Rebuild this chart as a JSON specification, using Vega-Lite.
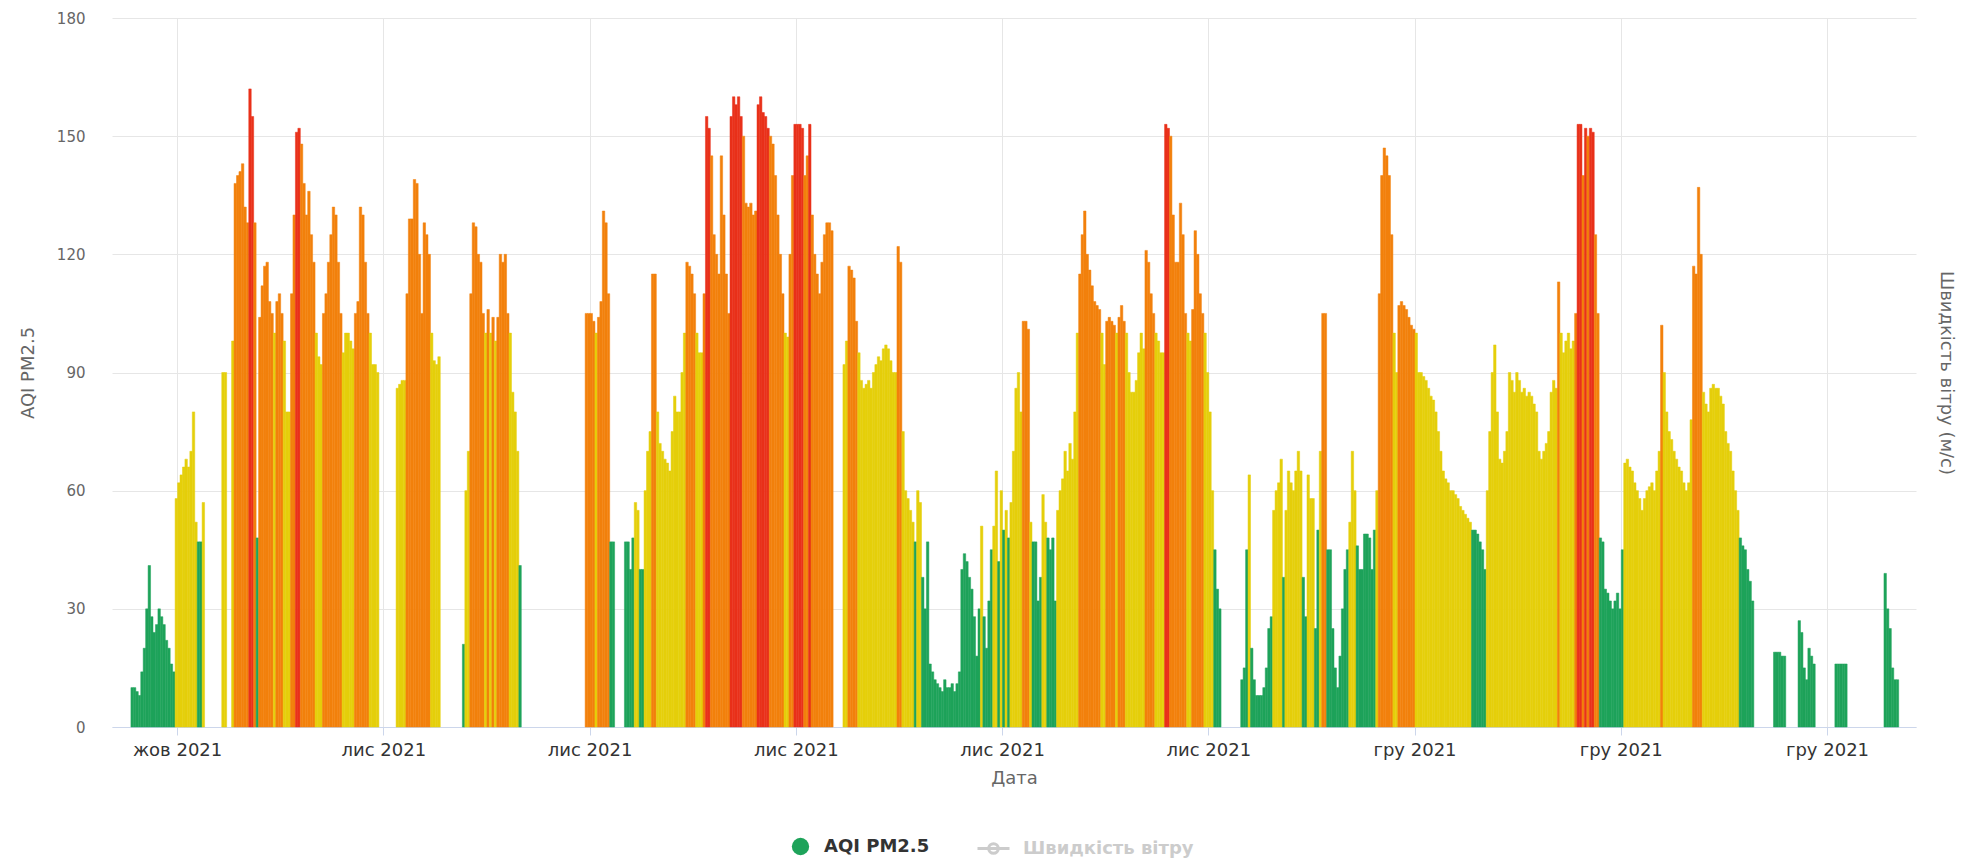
{
"$schema":"https://vega.github.io/schema/vega-lite/v6.json",
"width":1804,"height":709,
"autosize":{"type":"none"},
"padding":{"left":112,"top":18,"right":57,"bottom":134},
"config":{"font":"DejaVu Sans","view":{"stroke":null}},
"datasets":{"aqi":[
{"t":"2021-10-23T10:00","v":10},{"t":"2021-10-23T12:00","v":10},{"t":"2021-10-23T14:00","v":9},{"t":"2021-10-23T16:00","v":8},{"t":"2021-10-23T18:00","v":14},{"t":"2021-10-23T20:00","v":20},{"t":"2021-10-23T22:00","v":30},
{"t":"2021-10-24T00:00","v":41},{"t":"2021-10-24T02:00","v":28},{"t":"2021-10-24T04:00","v":24},{"t":"2021-10-24T06:00","v":26},{"t":"2021-10-24T08:00","v":30},{"t":"2021-10-24T10:00","v":28},{"t":"2021-10-24T12:00","v":26},{"t":"2021-10-24T14:00","v":22},{"t":"2021-10-24T16:00","v":20},{"t":"2021-10-24T18:00","v":16},{"t":"2021-10-24T20:00","v":14},{"t":"2021-10-24T22:00","v":58},
{"t":"2021-10-25T00:00","v":62},{"t":"2021-10-25T02:00","v":64},{"t":"2021-10-25T04:00","v":66},{"t":"2021-10-25T06:00","v":68},{"t":"2021-10-25T08:00","v":66},{"t":"2021-10-25T10:00","v":70},{"t":"2021-10-25T12:00","v":80},{"t":"2021-10-25T14:00","v":52},{"t":"2021-10-25T16:00","v":47},{"t":"2021-10-25T18:00","v":47},{"t":"2021-10-25T20:00","v":57},
{"t":"2021-10-26T12:00","v":90},{"t":"2021-10-26T14:00","v":90},{"t":"2021-10-26T20:00","v":98},{"t":"2021-10-26T22:00","v":138},
{"t":"2021-10-27T00:00","v":140},{"t":"2021-10-27T02:00","v":141},{"t":"2021-10-27T04:00","v":143},{"t":"2021-10-27T06:00","v":132},{"t":"2021-10-27T08:00","v":128},{"t":"2021-10-27T10:00","v":162},{"t":"2021-10-27T12:00","v":155},{"t":"2021-10-27T14:00","v":128},{"t":"2021-10-27T16:00","v":48},{"t":"2021-10-27T18:00","v":104},{"t":"2021-10-27T20:00","v":112},{"t":"2021-10-27T22:00","v":117},
{"t":"2021-10-28T00:00","v":118},{"t":"2021-10-28T02:00","v":108},{"t":"2021-10-28T04:00","v":105},{"t":"2021-10-28T06:00","v":100},{"t":"2021-10-28T08:00","v":108},{"t":"2021-10-28T10:00","v":110},{"t":"2021-10-28T12:00","v":105},{"t":"2021-10-28T14:00","v":98},{"t":"2021-10-28T16:00","v":80},{"t":"2021-10-28T18:00","v":80},{"t":"2021-10-28T20:00","v":110},{"t":"2021-10-28T22:00","v":130},
{"t":"2021-10-29T00:00","v":151},{"t":"2021-10-29T02:00","v":152},{"t":"2021-10-29T04:00","v":148},{"t":"2021-10-29T06:00","v":138},{"t":"2021-10-29T08:00","v":130},{"t":"2021-10-29T10:00","v":136},{"t":"2021-10-29T12:00","v":125},{"t":"2021-10-29T14:00","v":118},{"t":"2021-10-29T16:00","v":100},{"t":"2021-10-29T18:00","v":94},{"t":"2021-10-29T20:00","v":92},{"t":"2021-10-29T22:00","v":105},
{"t":"2021-10-30T00:00","v":110},{"t":"2021-10-30T02:00","v":118},{"t":"2021-10-30T04:00","v":125},{"t":"2021-10-30T06:00","v":132},{"t":"2021-10-30T08:00","v":130},{"t":"2021-10-30T10:00","v":118},{"t":"2021-10-30T12:00","v":105},{"t":"2021-10-30T14:00","v":95},{"t":"2021-10-30T16:00","v":100},{"t":"2021-10-30T18:00","v":100},{"t":"2021-10-30T20:00","v":98},{"t":"2021-10-30T22:00","v":96},
{"t":"2021-10-31T00:00","v":105},{"t":"2021-10-31T02:00","v":108},{"t":"2021-10-31T04:00","v":132},{"t":"2021-10-31T06:00","v":130},{"t":"2021-10-31T08:00","v":118},{"t":"2021-10-31T10:00","v":105},{"t":"2021-10-31T12:00","v":100},{"t":"2021-10-31T14:00","v":92},{"t":"2021-10-31T16:00","v":92},{"t":"2021-10-31T18:00","v":90},
{"t":"2021-11-01T10:00","v":86},{"t":"2021-11-01T12:00","v":87},{"t":"2021-11-01T14:00","v":88},{"t":"2021-11-01T16:00","v":88},{"t":"2021-11-01T18:00","v":110},{"t":"2021-11-01T20:00","v":129},{"t":"2021-11-01T22:00","v":129},
{"t":"2021-11-02T00:00","v":139},{"t":"2021-11-02T02:00","v":138},{"t":"2021-11-02T04:00","v":120},{"t":"2021-11-02T06:00","v":105},{"t":"2021-11-02T08:00","v":128},{"t":"2021-11-02T10:00","v":125},{"t":"2021-11-02T12:00","v":120},{"t":"2021-11-02T14:00","v":100},{"t":"2021-11-02T16:00","v":93},{"t":"2021-11-02T18:00","v":92},{"t":"2021-11-02T20:00","v":94},
{"t":"2021-11-03T16:00","v":21},{"t":"2021-11-03T18:00","v":60},{"t":"2021-11-03T20:00","v":70},{"t":"2021-11-03T22:00","v":110},
{"t":"2021-11-04T00:00","v":128},{"t":"2021-11-04T02:00","v":127},{"t":"2021-11-04T04:00","v":120},{"t":"2021-11-04T06:00","v":118},{"t":"2021-11-04T08:00","v":105},{"t":"2021-11-04T10:00","v":100},{"t":"2021-11-04T12:00","v":106},{"t":"2021-11-04T14:00","v":100},{"t":"2021-11-04T16:00","v":104},{"t":"2021-11-04T18:00","v":98},{"t":"2021-11-04T20:00","v":104},{"t":"2021-11-04T22:00","v":120},
{"t":"2021-11-05T00:00","v":118},{"t":"2021-11-05T02:00","v":120},{"t":"2021-11-05T04:00","v":105},{"t":"2021-11-05T06:00","v":100},{"t":"2021-11-05T08:00","v":85},{"t":"2021-11-05T10:00","v":80},{"t":"2021-11-05T12:00","v":70},{"t":"2021-11-05T14:00","v":41},
{"t":"2021-11-07T20:00","v":105},{"t":"2021-11-07T22:00","v":105},
{"t":"2021-11-08T00:00","v":105},{"t":"2021-11-08T02:00","v":103},{"t":"2021-11-08T04:00","v":100},{"t":"2021-11-08T06:00","v":104},{"t":"2021-11-08T08:00","v":108},{"t":"2021-11-08T10:00","v":131},{"t":"2021-11-08T12:00","v":128},{"t":"2021-11-08T14:00","v":110},{"t":"2021-11-08T16:00","v":47},{"t":"2021-11-08T18:00","v":47},
{"t":"2021-11-09T04:00","v":47},{"t":"2021-11-09T06:00","v":47},{"t":"2021-11-09T08:00","v":40},{"t":"2021-11-09T10:00","v":48},{"t":"2021-11-09T12:00","v":57},{"t":"2021-11-09T14:00","v":55},{"t":"2021-11-09T16:00","v":40},{"t":"2021-11-09T18:00","v":40},{"t":"2021-11-09T20:00","v":60},{"t":"2021-11-09T22:00","v":70},
{"t":"2021-11-10T00:00","v":75},{"t":"2021-11-10T02:00","v":115},{"t":"2021-11-10T04:00","v":115},{"t":"2021-11-10T06:00","v":80},{"t":"2021-11-10T08:00","v":72},{"t":"2021-11-10T10:00","v":70},{"t":"2021-11-10T12:00","v":68},{"t":"2021-11-10T14:00","v":67},{"t":"2021-11-10T16:00","v":65},{"t":"2021-11-10T18:00","v":75},{"t":"2021-11-10T20:00","v":84},{"t":"2021-11-10T22:00","v":80},
{"t":"2021-11-11T00:00","v":80},{"t":"2021-11-11T02:00","v":90},{"t":"2021-11-11T04:00","v":100},{"t":"2021-11-11T06:00","v":118},{"t":"2021-11-11T08:00","v":117},{"t":"2021-11-11T10:00","v":115},{"t":"2021-11-11T12:00","v":110},{"t":"2021-11-11T14:00","v":100},{"t":"2021-11-11T16:00","v":95},{"t":"2021-11-11T18:00","v":95},{"t":"2021-11-11T20:00","v":110},{"t":"2021-11-11T22:00","v":155},
{"t":"2021-11-12T00:00","v":152},{"t":"2021-11-12T02:00","v":145},{"t":"2021-11-12T04:00","v":125},{"t":"2021-11-12T06:00","v":120},{"t":"2021-11-12T08:00","v":115},{"t":"2021-11-12T10:00","v":145},{"t":"2021-11-12T12:00","v":130},{"t":"2021-11-12T14:00","v":115},{"t":"2021-11-12T16:00","v":105},{"t":"2021-11-12T18:00","v":155},{"t":"2021-11-12T20:00","v":160},{"t":"2021-11-12T22:00","v":158},
{"t":"2021-11-13T00:00","v":160},{"t":"2021-11-13T02:00","v":155},{"t":"2021-11-13T04:00","v":150},{"t":"2021-11-13T06:00","v":133},{"t":"2021-11-13T08:00","v":132},{"t":"2021-11-13T10:00","v":133},{"t":"2021-11-13T12:00","v":130},{"t":"2021-11-13T14:00","v":131},{"t":"2021-11-13T16:00","v":158},{"t":"2021-11-13T18:00","v":160},{"t":"2021-11-13T20:00","v":156},{"t":"2021-11-13T22:00","v":155},
{"t":"2021-11-14T00:00","v":152},{"t":"2021-11-14T02:00","v":150},{"t":"2021-11-14T04:00","v":148},{"t":"2021-11-14T06:00","v":140},{"t":"2021-11-14T08:00","v":130},{"t":"2021-11-14T10:00","v":120},{"t":"2021-11-14T12:00","v":110},{"t":"2021-11-14T14:00","v":100},{"t":"2021-11-14T16:00","v":99},{"t":"2021-11-14T18:00","v":120},{"t":"2021-11-14T20:00","v":140},{"t":"2021-11-14T22:00","v":153},
{"t":"2021-11-15T00:00","v":153},{"t":"2021-11-15T02:00","v":153},{"t":"2021-11-15T04:00","v":152},{"t":"2021-11-15T06:00","v":140},{"t":"2021-11-15T08:00","v":145},{"t":"2021-11-15T10:00","v":153},{"t":"2021-11-15T12:00","v":130},{"t":"2021-11-15T14:00","v":120},{"t":"2021-11-15T16:00","v":115},{"t":"2021-11-15T18:00","v":110},{"t":"2021-11-15T20:00","v":118},{"t":"2021-11-15T22:00","v":125},
{"t":"2021-11-16T00:00","v":128},{"t":"2021-11-16T02:00","v":128},{"t":"2021-11-16T04:00","v":126},{"t":"2021-11-16T14:00","v":92},{"t":"2021-11-16T16:00","v":98},{"t":"2021-11-16T18:00","v":117},{"t":"2021-11-16T20:00","v":116},{"t":"2021-11-16T22:00","v":114},
{"t":"2021-11-17T00:00","v":103},{"t":"2021-11-17T02:00","v":95},{"t":"2021-11-17T04:00","v":88},{"t":"2021-11-17T06:00","v":86},{"t":"2021-11-17T08:00","v":87},{"t":"2021-11-17T10:00","v":88},{"t":"2021-11-17T12:00","v":86},{"t":"2021-11-17T14:00","v":90},{"t":"2021-11-17T16:00","v":92},{"t":"2021-11-17T18:00","v":94},{"t":"2021-11-17T20:00","v":93},{"t":"2021-11-17T22:00","v":96},
{"t":"2021-11-18T00:00","v":97},{"t":"2021-11-18T02:00","v":96},{"t":"2021-11-18T04:00","v":93},{"t":"2021-11-18T06:00","v":90},{"t":"2021-11-18T08:00","v":90},{"t":"2021-11-18T10:00","v":122},{"t":"2021-11-18T12:00","v":118},{"t":"2021-11-18T14:00","v":75},{"t":"2021-11-18T16:00","v":60},{"t":"2021-11-18T18:00","v":58},{"t":"2021-11-18T20:00","v":55},{"t":"2021-11-18T22:00","v":52},
{"t":"2021-11-19T00:00","v":47},{"t":"2021-11-19T02:00","v":60},{"t":"2021-11-19T04:00","v":57},{"t":"2021-11-19T06:00","v":38},{"t":"2021-11-19T08:00","v":30},{"t":"2021-11-19T10:00","v":47},{"t":"2021-11-19T12:00","v":16},{"t":"2021-11-19T14:00","v":14},{"t":"2021-11-19T16:00","v":12},{"t":"2021-11-19T18:00","v":11},{"t":"2021-11-19T20:00","v":10},{"t":"2021-11-19T22:00","v":9},
{"t":"2021-11-20T00:00","v":12},{"t":"2021-11-20T02:00","v":10},{"t":"2021-11-20T04:00","v":10},{"t":"2021-11-20T06:00","v":11},{"t":"2021-11-20T08:00","v":9},{"t":"2021-11-20T10:00","v":11},{"t":"2021-11-20T12:00","v":14},{"t":"2021-11-20T14:00","v":40},{"t":"2021-11-20T16:00","v":44},{"t":"2021-11-20T18:00","v":42},{"t":"2021-11-20T20:00","v":38},{"t":"2021-11-20T22:00","v":35},
{"t":"2021-11-21T00:00","v":28},{"t":"2021-11-21T02:00","v":18},{"t":"2021-11-21T04:00","v":30},{"t":"2021-11-21T06:00","v":51},{"t":"2021-11-21T08:00","v":28},{"t":"2021-11-21T10:00","v":20},{"t":"2021-11-21T12:00","v":32},{"t":"2021-11-21T14:00","v":45},{"t":"2021-11-21T16:00","v":51},{"t":"2021-11-21T18:00","v":65},{"t":"2021-11-21T20:00","v":42},{"t":"2021-11-21T22:00","v":60},
{"t":"2021-11-22T00:00","v":50},{"t":"2021-11-22T02:00","v":55},{"t":"2021-11-22T04:00","v":48},{"t":"2021-11-22T06:00","v":57},{"t":"2021-11-22T08:00","v":70},{"t":"2021-11-22T10:00","v":86},{"t":"2021-11-22T12:00","v":90},{"t":"2021-11-22T14:00","v":80},{"t":"2021-11-22T16:00","v":103},{"t":"2021-11-22T18:00","v":103},{"t":"2021-11-22T20:00","v":101},{"t":"2021-11-22T22:00","v":52},
{"t":"2021-11-23T00:00","v":47},{"t":"2021-11-23T02:00","v":47},{"t":"2021-11-23T04:00","v":32},{"t":"2021-11-23T06:00","v":38},{"t":"2021-11-23T08:00","v":59},{"t":"2021-11-23T10:00","v":52},{"t":"2021-11-23T12:00","v":48},{"t":"2021-11-23T14:00","v":45},{"t":"2021-11-23T16:00","v":48},{"t":"2021-11-23T18:00","v":32},{"t":"2021-11-23T20:00","v":55},{"t":"2021-11-23T22:00","v":60},
{"t":"2021-11-24T00:00","v":63},{"t":"2021-11-24T02:00","v":70},{"t":"2021-11-24T04:00","v":65},{"t":"2021-11-24T06:00","v":72},{"t":"2021-11-24T08:00","v":68},{"t":"2021-11-24T10:00","v":80},{"t":"2021-11-24T12:00","v":100},{"t":"2021-11-24T14:00","v":115},{"t":"2021-11-24T16:00","v":125},{"t":"2021-11-24T18:00","v":131},{"t":"2021-11-24T20:00","v":120},{"t":"2021-11-24T22:00","v":116},
{"t":"2021-11-25T00:00","v":112},{"t":"2021-11-25T02:00","v":108},{"t":"2021-11-25T04:00","v":107},{"t":"2021-11-25T06:00","v":106},{"t":"2021-11-25T08:00","v":100},{"t":"2021-11-25T10:00","v":92},{"t":"2021-11-25T12:00","v":103},{"t":"2021-11-25T14:00","v":104},{"t":"2021-11-25T16:00","v":103},{"t":"2021-11-25T18:00","v":102},{"t":"2021-11-25T20:00","v":100},{"t":"2021-11-25T22:00","v":104},
{"t":"2021-11-26T00:00","v":107},{"t":"2021-11-26T02:00","v":103},{"t":"2021-11-26T04:00","v":100},{"t":"2021-11-26T06:00","v":90},{"t":"2021-11-26T08:00","v":85},{"t":"2021-11-26T10:00","v":85},{"t":"2021-11-26T12:00","v":88},{"t":"2021-11-26T14:00","v":95},{"t":"2021-11-26T16:00","v":100},{"t":"2021-11-26T18:00","v":96},{"t":"2021-11-26T20:00","v":121},{"t":"2021-11-26T22:00","v":118},
{"t":"2021-11-27T00:00","v":110},{"t":"2021-11-27T02:00","v":105},{"t":"2021-11-27T04:00","v":100},{"t":"2021-11-27T06:00","v":98},{"t":"2021-11-27T08:00","v":95},{"t":"2021-11-27T10:00","v":95},{"t":"2021-11-27T12:00","v":153},{"t":"2021-11-27T14:00","v":152},{"t":"2021-11-27T16:00","v":150},{"t":"2021-11-27T18:00","v":130},{"t":"2021-11-27T20:00","v":118},{"t":"2021-11-27T22:00","v":118},
{"t":"2021-11-28T00:00","v":133},{"t":"2021-11-28T02:00","v":125},{"t":"2021-11-28T04:00","v":105},{"t":"2021-11-28T06:00","v":100},{"t":"2021-11-28T08:00","v":98},{"t":"2021-11-28T10:00","v":106},{"t":"2021-11-28T12:00","v":126},{"t":"2021-11-28T14:00","v":120},{"t":"2021-11-28T16:00","v":110},{"t":"2021-11-28T18:00","v":105},{"t":"2021-11-28T20:00","v":100},{"t":"2021-11-28T22:00","v":90},
{"t":"2021-11-29T00:00","v":80},{"t":"2021-11-29T02:00","v":60},{"t":"2021-11-29T04:00","v":45},{"t":"2021-11-29T06:00","v":35},{"t":"2021-11-29T08:00","v":30},
{"t":"2021-11-30T02:00","v":12},{"t":"2021-11-30T04:00","v":15},{"t":"2021-11-30T06:00","v":45},{"t":"2021-11-30T08:00","v":64},{"t":"2021-11-30T10:00","v":20},{"t":"2021-11-30T12:00","v":12},{"t":"2021-11-30T14:00","v":8},{"t":"2021-11-30T16:00","v":8},{"t":"2021-11-30T18:00","v":8},{"t":"2021-11-30T20:00","v":10},{"t":"2021-11-30T22:00","v":15},
{"t":"2021-12-01T00:00","v":25},{"t":"2021-12-01T02:00","v":28},{"t":"2021-12-01T04:00","v":55},{"t":"2021-12-01T06:00","v":60},{"t":"2021-12-01T08:00","v":62},{"t":"2021-12-01T10:00","v":68},{"t":"2021-12-01T12:00","v":38},{"t":"2021-12-01T14:00","v":55},{"t":"2021-12-01T16:00","v":65},{"t":"2021-12-01T18:00","v":62},{"t":"2021-12-01T20:00","v":60},{"t":"2021-12-01T22:00","v":65},
{"t":"2021-12-02T00:00","v":70},{"t":"2021-12-02T02:00","v":65},{"t":"2021-12-02T04:00","v":38},{"t":"2021-12-02T06:00","v":28},{"t":"2021-12-02T08:00","v":64},{"t":"2021-12-02T10:00","v":58},{"t":"2021-12-02T12:00","v":58},{"t":"2021-12-02T14:00","v":25},{"t":"2021-12-02T16:00","v":50},{"t":"2021-12-02T18:00","v":70},{"t":"2021-12-02T20:00","v":105},{"t":"2021-12-02T22:00","v":105},
{"t":"2021-12-03T00:00","v":45},{"t":"2021-12-03T02:00","v":45},{"t":"2021-12-03T04:00","v":25},{"t":"2021-12-03T06:00","v":15},{"t":"2021-12-03T08:00","v":10},{"t":"2021-12-03T10:00","v":18},{"t":"2021-12-03T12:00","v":30},{"t":"2021-12-03T14:00","v":40},{"t":"2021-12-03T16:00","v":45},{"t":"2021-12-03T18:00","v":52},{"t":"2021-12-03T20:00","v":70},{"t":"2021-12-03T22:00","v":60},
{"t":"2021-12-04T00:00","v":46},{"t":"2021-12-04T02:00","v":40},{"t":"2021-12-04T04:00","v":40},{"t":"2021-12-04T06:00","v":49},{"t":"2021-12-04T08:00","v":49},{"t":"2021-12-04T10:00","v":48},{"t":"2021-12-04T12:00","v":40},{"t":"2021-12-04T14:00","v":50},{"t":"2021-12-04T16:00","v":60},{"t":"2021-12-04T18:00","v":110},{"t":"2021-12-04T20:00","v":140},{"t":"2021-12-04T22:00","v":147},
{"t":"2021-12-05T00:00","v":145},{"t":"2021-12-05T02:00","v":140},{"t":"2021-12-05T04:00","v":125},{"t":"2021-12-05T06:00","v":100},{"t":"2021-12-05T08:00","v":90},{"t":"2021-12-05T10:00","v":107},{"t":"2021-12-05T12:00","v":108},{"t":"2021-12-05T14:00","v":107},{"t":"2021-12-05T16:00","v":106},{"t":"2021-12-05T18:00","v":104},{"t":"2021-12-05T20:00","v":102},{"t":"2021-12-05T22:00","v":101},
{"t":"2021-12-06T00:00","v":100},{"t":"2021-12-06T02:00","v":90},{"t":"2021-12-06T04:00","v":90},{"t":"2021-12-06T06:00","v":89},{"t":"2021-12-06T08:00","v":88},{"t":"2021-12-06T10:00","v":86},{"t":"2021-12-06T12:00","v":84},{"t":"2021-12-06T14:00","v":83},{"t":"2021-12-06T16:00","v":80},{"t":"2021-12-06T18:00","v":75},{"t":"2021-12-06T20:00","v":70},{"t":"2021-12-06T22:00","v":65},
{"t":"2021-12-07T00:00","v":63},{"t":"2021-12-07T02:00","v":62},{"t":"2021-12-07T04:00","v":60},{"t":"2021-12-07T06:00","v":60},{"t":"2021-12-07T08:00","v":59},{"t":"2021-12-07T10:00","v":58},{"t":"2021-12-07T12:00","v":56},{"t":"2021-12-07T14:00","v":55},{"t":"2021-12-07T16:00","v":54},{"t":"2021-12-07T18:00","v":53},{"t":"2021-12-07T20:00","v":52},{"t":"2021-12-07T22:00","v":50},
{"t":"2021-12-08T00:00","v":50},{"t":"2021-12-08T02:00","v":49},{"t":"2021-12-08T04:00","v":47},{"t":"2021-12-08T06:00","v":45},{"t":"2021-12-08T08:00","v":40},{"t":"2021-12-08T10:00","v":60},{"t":"2021-12-08T12:00","v":75},{"t":"2021-12-08T14:00","v":90},{"t":"2021-12-08T16:00","v":97},{"t":"2021-12-08T18:00","v":80},{"t":"2021-12-08T20:00","v":68},{"t":"2021-12-08T22:00","v":67},
{"t":"2021-12-09T00:00","v":70},{"t":"2021-12-09T02:00","v":75},{"t":"2021-12-09T04:00","v":90},{"t":"2021-12-09T06:00","v":88},{"t":"2021-12-09T08:00","v":85},{"t":"2021-12-09T10:00","v":90},{"t":"2021-12-09T12:00","v":88},{"t":"2021-12-09T14:00","v":85},{"t":"2021-12-09T16:00","v":86},{"t":"2021-12-09T18:00","v":84},{"t":"2021-12-09T20:00","v":85},{"t":"2021-12-09T22:00","v":84},
{"t":"2021-12-10T00:00","v":82},{"t":"2021-12-10T02:00","v":80},{"t":"2021-12-10T04:00","v":70},{"t":"2021-12-10T06:00","v":68},{"t":"2021-12-10T08:00","v":70},{"t":"2021-12-10T10:00","v":72},{"t":"2021-12-10T12:00","v":75},{"t":"2021-12-10T14:00","v":85},{"t":"2021-12-10T16:00","v":88},{"t":"2021-12-10T18:00","v":86},{"t":"2021-12-10T20:00","v":113},{"t":"2021-12-10T22:00","v":100},
{"t":"2021-12-11T00:00","v":95},{"t":"2021-12-11T02:00","v":98},{"t":"2021-12-11T04:00","v":100},{"t":"2021-12-11T06:00","v":96},{"t":"2021-12-11T08:00","v":98},{"t":"2021-12-11T10:00","v":105},{"t":"2021-12-11T12:00","v":153},{"t":"2021-12-11T14:00","v":153},{"t":"2021-12-11T16:00","v":140},{"t":"2021-12-11T18:00","v":152},{"t":"2021-12-11T20:00","v":150},{"t":"2021-12-11T22:00","v":152},
{"t":"2021-12-12T00:00","v":151},{"t":"2021-12-12T02:00","v":125},{"t":"2021-12-12T04:00","v":105},{"t":"2021-12-12T06:00","v":48},{"t":"2021-12-12T08:00","v":47},{"t":"2021-12-12T10:00","v":35},{"t":"2021-12-12T12:00","v":34},{"t":"2021-12-12T14:00","v":32},{"t":"2021-12-12T16:00","v":30},{"t":"2021-12-12T18:00","v":32},{"t":"2021-12-12T20:00","v":34},{"t":"2021-12-12T22:00","v":30},
{"t":"2021-12-13T00:00","v":45},{"t":"2021-12-13T02:00","v":67},{"t":"2021-12-13T04:00","v":68},{"t":"2021-12-13T06:00","v":66},{"t":"2021-12-13T08:00","v":65},{"t":"2021-12-13T10:00","v":62},{"t":"2021-12-13T12:00","v":60},{"t":"2021-12-13T14:00","v":58},{"t":"2021-12-13T16:00","v":55},{"t":"2021-12-13T18:00","v":58},{"t":"2021-12-13T20:00","v":60},{"t":"2021-12-13T22:00","v":61},
{"t":"2021-12-14T00:00","v":62},{"t":"2021-12-14T02:00","v":60},{"t":"2021-12-14T04:00","v":65},{"t":"2021-12-14T06:00","v":70},{"t":"2021-12-14T08:00","v":102},{"t":"2021-12-14T10:00","v":90},{"t":"2021-12-14T12:00","v":80},{"t":"2021-12-14T14:00","v":75},{"t":"2021-12-14T16:00","v":73},{"t":"2021-12-14T18:00","v":70},{"t":"2021-12-14T20:00","v":68},{"t":"2021-12-14T22:00","v":66},
{"t":"2021-12-15T00:00","v":65},{"t":"2021-12-15T02:00","v":62},{"t":"2021-12-15T04:00","v":60},{"t":"2021-12-15T06:00","v":62},{"t":"2021-12-15T08:00","v":78},{"t":"2021-12-15T10:00","v":117},{"t":"2021-12-15T12:00","v":115},{"t":"2021-12-15T14:00","v":137},{"t":"2021-12-15T16:00","v":120},{"t":"2021-12-15T18:00","v":85},{"t":"2021-12-15T20:00","v":82},{"t":"2021-12-15T22:00","v":80},
{"t":"2021-12-16T00:00","v":86},{"t":"2021-12-16T02:00","v":87},{"t":"2021-12-16T04:00","v":86},{"t":"2021-12-16T06:00","v":86},{"t":"2021-12-16T08:00","v":84},{"t":"2021-12-16T10:00","v":82},{"t":"2021-12-16T12:00","v":75},{"t":"2021-12-16T14:00","v":72},{"t":"2021-12-16T16:00","v":70},{"t":"2021-12-16T18:00","v":65},{"t":"2021-12-16T20:00","v":60},{"t":"2021-12-16T22:00","v":55},
{"t":"2021-12-17T00:00","v":48},{"t":"2021-12-17T02:00","v":46},{"t":"2021-12-17T04:00","v":45},{"t":"2021-12-17T06:00","v":40},{"t":"2021-12-17T08:00","v":37},{"t":"2021-12-17T10:00","v":32},
{"t":"2021-12-18T04:00","v":19},{"t":"2021-12-18T06:00","v":19},{"t":"2021-12-18T08:00","v":19},{"t":"2021-12-18T10:00","v":18},{"t":"2021-12-18T12:00","v":18},
{"t":"2021-12-19T00:00","v":27},{"t":"2021-12-19T02:00","v":24},{"t":"2021-12-19T04:00","v":15},{"t":"2021-12-19T06:00","v":12},{"t":"2021-12-19T08:00","v":20},{"t":"2021-12-19T10:00","v":18},{"t":"2021-12-19T12:00","v":16},
{"t":"2021-12-20T06:00","v":16},{"t":"2021-12-20T08:00","v":16},{"t":"2021-12-20T10:00","v":16},{"t":"2021-12-20T12:00","v":16},{"t":"2021-12-20T14:00","v":16},
{"t":"2021-12-21T22:00","v":39},
{"t":"2021-12-22T00:00","v":30},{"t":"2021-12-22T02:00","v":25},{"t":"2021-12-22T04:00","v":15},{"t":"2021-12-22T06:00","v":12},{"t":"2021-12-22T08:00","v":12}
],
"legendAqi":[{"s":"AQI PM2.5"}],
"legendWind":[{"s":"Швидкість вітру"}]
},
"layer":[
{
"data":{"name":"aqi"},
"mark":{"type":"bar","binSpacing":0,"opacity":1,"strokeWidth":0.5,"strokeOpacity":1},
"encoding":{
"x":{"field":"t","type":"temporal","timeUnit":{"unit":"yearmonthdatehours","step":2},
"scale":{"domain":[{"year":2021,"month":10,"date":22,"hours":19},{"year":2021,"month":12,"date":23,"hours":0,"minutes":30}]},
"axis":{"title":"Дата","values":[{"year":2021,"month":10,"date":25},{"year":2021,"month":11,"date":1},{"year":2021,"month":11,"date":8},{"year":2021,"month":11,"date":15},{"year":2021,"month":11,"date":22},{"year":2021,"month":11,"date":29},{"year":2021,"month":12,"date":6},{"year":2021,"month":12,"date":13},{"year":2021,"month":12,"date":20}],
"labelExpr":"['січ','лют','бер','кві','тра','чер','лип','сер','вер','жов','лис','гру'][month(datum.value)] + ' ' + year(datum.value)",
"grid":true,"gridColor":"#e6e6e6","domainColor":"#ccd6eb","tickColor":"#ccd6eb","tickSize":8,"labelPadding":6,"labelFontSize":18,"labelColor":"#333333","labelFlush":false,"labelOverlap":false,
"titleFontSize":18,"titleFontWeight":"normal","titleColor":"#666666","titlePadding":10}},
"y":{"field":"v","type":"quantitative","scale":{"domain":[0,180],"nice":false},
"axis":{"title":"AQI PM2.5","values":[0,30,60,90,120,150,180],"grid":true,"gridColor":"#e6e6e6","domain":false,"ticks":false,"labelPadding":27,"labelFontSize":15,"labelColor":"#666666","titleFontSize":18,"titleFontWeight":"normal","titleColor":"#666666","titlePadding":19}},
"color":{"field":"v","type":"quantitative","scale":{"type":"threshold","domain":[51,101,151],"range":["#1ea35a","#e5cf0b","#f2800c","#e9311a"]},"legend":null},
"stroke":{"field":"v","type":"quantitative","scale":{"type":"threshold","domain":[51,101,151],"range":["#1ea35a","#e5cf0b","#f2800c","#e9311a"]},"legend":null}
}
},
{
"data":{"name":"legendAqi"},
"mark":{"type":"point","filled":true,"opacity":0},
"encoding":{
"fill":{"field":"s","type":"nominal","scale":{"range":["#1ea35a"]},
"legend":{"orient":"none","legendX":679,"legendY":819,"title":null,"symbolType":"circle","symbolSize":300,"symbolOpacity":1,"labelFontSize":18,"labelFontWeight":"bold","labelColor":"#333333","labelOffset":14,"labelLimit":400}}
}
},
{
"data":{"name":"legendWind"},
"mark":{"type":"point","filled":false,"opacity":0},
"encoding":{
"y":{"datum":0,"type":"quantitative","scale":{"domain":[0,1]},"axis":{"orient":"right","title":"Швидкість вітру (м/с)","labels":false,"ticks":false,"domain":false,"grid":false,"titleFontSize":18,"titleFontWeight":"normal","titleColor":"#666666","titlePadding":20}},
"stroke":{"field":"s","type":"nominal","scale":{"range":["#cccccc"]},
"legend":{"orient":"none","legendX":864,"legendY":813,"title":null,"symbolType":"M-1,0L1,0M-0.3,0A0.3,0.3 0 1,1 0.3,0A0.3,0.3 0 1,1 -0.3,0Z","symbolSize":1024,"symbolStrokeWidth":3,"symbolFillColor":"#cccccc","symbolOpacity":1,"labelFontSize":18,"labelFontWeight":"bold","labelColor":"#cccccc","labelOffset":12,"labelLimit":400}}
}
}
],
"resolve":{"scale":{"y":"independent","stroke":"independent"}}
}
